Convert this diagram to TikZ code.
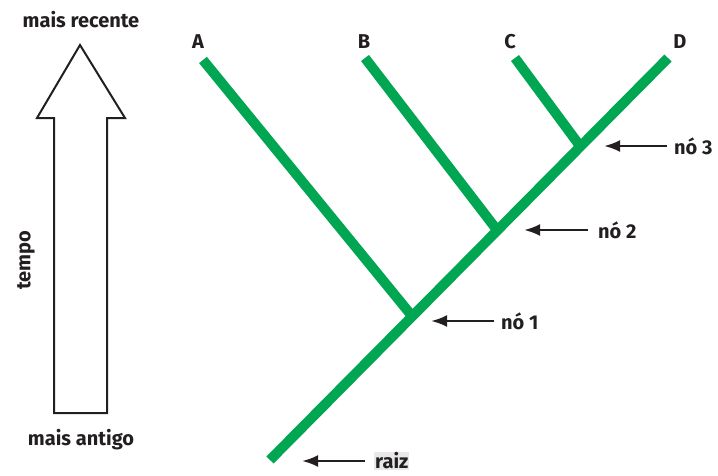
\documentclass[tikz,border=0pt]{standalone}
\usepackage{fontspec}
\setmainfont{Fira Sans}
\usepackage{xcolor}
\usetikzlibrary{arrows.meta, positioning, calc}

\definecolor{treegreen}{RGB}{0,166,81}
\definecolor{inkdark}{RGB}{35,31,32}

\begin{document}
\begin{tikzpicture}[
    x=1pt, y=-1pt,
    every node/.style={font=\fontsize{20}{22}\selectfont\bfseries, text=inkdark, inner sep=1pt},
    branch/.style={draw=treegreen, line width=10pt},
    ptr/.style={-{Latex[length=16pt, width=12pt]}, line width=2.6pt, draw=inkdark},
    tag/.style={anchor=west, inner sep=0pt}
]
\useasboundingbox (0,0) rectangle (718,475);

% Time arrow
\draw[line width=2pt, draw=inkdark, line join=miter]
    (80,45) -- (125,118) -- (107,118) -- (107,413) -- (54,413) -- (54,118) -- (37,118) -- cycle;
\node (recent) at (81,20) {mais recente};
\node (old) at (81,440) {mais antigo};
\node (time) [rotate=90] at (26,260) {tempo};

% Tree
\coordinate (root) at (270,460);
\coordinate (n1) at (412,316);
\coordinate (n2) at (497,230);
\coordinate (n3) at (580,146);
\coordinate (tipA) at (203,60);
\coordinate (tipB) at (365,58);
\coordinate (tipC) at (515,58);
\coordinate (tipD) at (668,58);

\draw[branch] (root) -- (tipD);
\draw[branch] (n1) -- (tipA);
\draw[branch] (n2) -- (tipB);
\draw[branch] (n3) -- (tipC);

% Tip labels
\node (A) at (198,42) {A};
\node (B) at (364,42) {B};
\node (C) at (510,42) {C};
\node (D) at (680,42) {D};

% Node pointers
\node (lbl3) [tag] at (674,146) {nó 3};
\node (lbl2) [tag] at (598,230) {nó 2};
\node (lbl1) [tag] at (501,321) {nó 1};
\node (lblr) [tag, fill=black!9, inner sep=1pt] at (374,461) {raiz};

\coordinate (p3) at (604,146);
\coordinate (p2) at (524,230);
\coordinate (p1) at (431,321);
\coordinate (pr) at (302,461);

\draw[ptr] (lbl3.west) ++(-7,0) -- (p3);
\draw[ptr] (lbl2.west) ++(-10,0) -- (p2);
\draw[ptr] (lbl1.west) ++(-7,0) -- (p1);
\draw[ptr] (lblr.west) ++(-9,0) -- (pr);

\end{tikzpicture}
\end{document}
